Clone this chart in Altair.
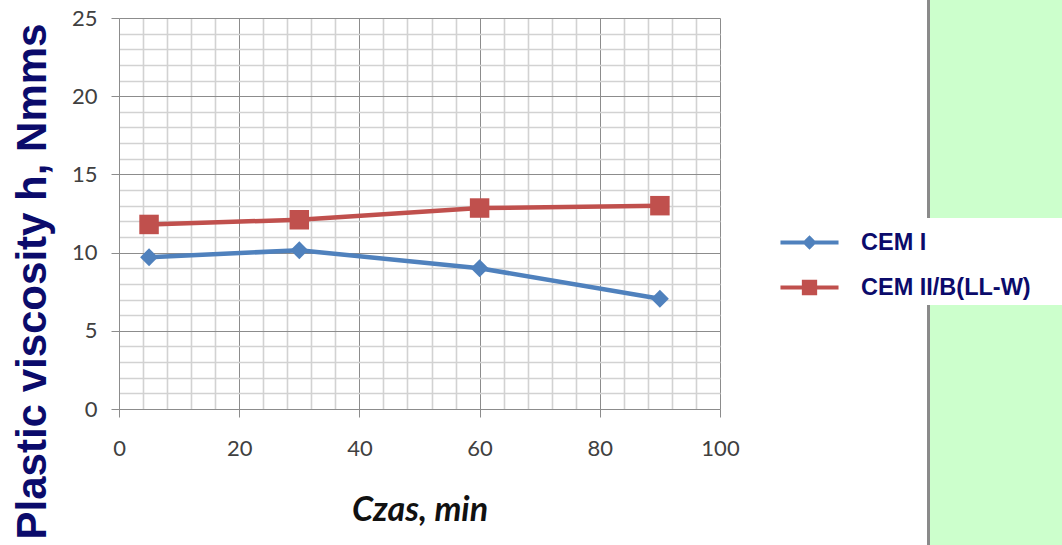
import altair as alt
import pandas as pd

# ---- data ----
time_min = [5, 30, 60, 90]
cem_1 = [9.7, 10.15, 9.0, 7.05]
cem_2 = [11.8, 12.1, 12.85, 13.0]
series_names = ["CEM I", "CEM II/B(LL-W)"]
series_colors = ["#4F81BD", "#C0504D"]
x_grid_values = list(range(0, 101, 4))
y_grid_values = list(range(0, 26, 1))

df = pd.DataFrame({
    "time": time_min * 2,
    "value": cem_1 + cem_2,
    "series": [series_names[0]] * len(time_min) + [series_names[1]] * len(time_min),
})

W, H = 601, 391
NAVY = "#0b0b6b"
TICK_FONT = "Lato"
MAJOR = "#8c8c8c"
MINOR = "#d2d2d2"

x_enc = alt.X(
    "time:Q",
    scale=alt.Scale(domain=[0, 100], nice=False, zero=False),
    axis=alt.Axis(
        values=x_grid_values,
        labelExpr="datum.value % 20 === 0 ? datum.label : ''",
        grid=True,
        gridColor={"condition": {"test": "datum.value % 20 === 0", "value": MAJOR}, "value": MINOR},
        gridWidth={"condition": {"test": "datum.value % 20 === 0", "value": 1}, "value": 1.6},
        ticks=True,
        tickSize=8,
        tickColor=MAJOR,
        tickOpacity={"condition": {"test": "datum.value % 20 === 0", "value": 1}, "value": 0},
        domainColor=MAJOR,
        labelFont=TICK_FONT,
        labelFontSize=22,
        labelColor="#404040",
        labelPadding=21,
        labelFlush=False,
        title="Czas, min",
        titleFont=TICK_FONT,
        titleFontSize=34,
        titleFontStyle="italic",
        titleFontWeight="bold",
        titleColor="#111111",
        titleX=W / 2,
        titleY=101,
        titleBaseline="middle",
        titleAlign="center",
    ),
)

y_enc = alt.Y(
    "value:Q",
    scale=alt.Scale(domain=[0, 25], nice=False, zero=False),
    axis=alt.Axis(
        values=y_grid_values,
        labelExpr="datum.value % 5 === 0 ? datum.label : ''",
        grid=True,
        gridColor={"condition": {"test": "datum.value % 5 === 0", "value": MAJOR}, "value": MINOR},
        gridWidth={"condition": {"test": "datum.value % 5 === 0", "value": 1}, "value": 1.6},
        ticks=True,
        tickSize=8,
        tickColor=MAJOR,
        tickOpacity={"condition": {"test": "datum.value % 5 === 0", "value": 1}, "value": 0},
        domainColor=MAJOR,
        labelFont=TICK_FONT,
        labelFontSize=22,
        labelColor="#404040",
        labelPadding=14,
        labelFlush=False,
        title="Plastic viscosity h, Nmms",
        titleFont="Liberation Sans",
        titleFontSize=42,
        titleFontWeight="bold",
        titleColor=NAVY,
        titleX=-87,
        titleY=263,
        titleAlign="center",
        titleBaseline="middle",
        titleAngle=270,
    ),
)

color_scale = alt.Scale(domain=series_names, range=series_colors)

# decorative right-hand panel (part of the slide background)
one = pd.DataFrame({"k": [0]})
panel_border = alt.Chart(one).mark_rect(color="#8a8a8a").encode(
    x=alt.value(808), x2=alt.value(811), y=alt.value(-18), y2=alt.value(527)
)
panel_fill = alt.Chart(one).mark_rect(color="#CCFFCC").encode(
    x=alt.value(811), x2=alt.value(943), y=alt.value(-18), y2=alt.value(527)
)
panel_cut = alt.Chart(one).mark_rect(color="#FFFFFF").encode(
    x=alt.value(806), x2=alt.value(943), y=alt.value(200), y2=alt.value(287)
)

lines = alt.Chart(df).mark_line(strokeWidth=4.5).encode(
    x=x_enc, y=y_enc,
    color=alt.Color("series:N", scale=color_scale, legend=None),
    detail="series:N",
)

points = alt.Chart(df).mark_point(filled=True, opacity=1).encode(
    x=x_enc, y=y_enc,
    color=alt.Color("series:N", scale=color_scale, legend=None),
    shape=alt.Shape("series:N", scale=alt.Scale(domain=series_names, range=["diamond", "square"]), legend=None),
    size=alt.Size("series:N", scale=alt.Scale(domain=series_names, range=[320, 380]), legend=None),
)

# legend symbols: line segment with marker
leg_diamond = "M-1.29,-0.09H1.29V0.09H-1.29Z M0,-0.32L0.32,0L0,0.32L-0.32,0Z"
leg_square = "M-1.29,-0.09H1.29V0.09H-1.29Z M-0.34,-0.34H0.34V0.34H-0.34Z"

legend_layer = alt.Chart(df).transform_filter("false").mark_point(filled=True, opacity=1).encode(
    x=x_enc, y=y_enc,
    color=alt.Color(
        "series:N", scale=color_scale,
        legend=alt.Legend(
            orient="none", legendX=668, legendY=202, title=None,
            labelFont="Liberation Sans", labelFontSize=23.5, labelFontWeight="bold",
            labelColor=NAVY, labelLimit=0, symbolSize=2025, symbolStrokeWidth=0,
            labelOffset=29, rowPadding=11, padding=0,
        ),
    ),
    shape=alt.Shape("series:N", scale=alt.Scale(domain=series_names, range=[leg_diamond, leg_square])),
)

chart = (
    alt.layer(panel_border, panel_fill, panel_cut, lines, points, legend_layer)
    .resolve_scale(color="independent", shape="independent", size="independent")
    .properties(
        width=W, height=H,
        autosize=alt.AutoSizeParams(type="none"),
        padding={"left": 119, "top": 18, "right": 342, "bottom": 136},
        background="white",
    )
    .configure_view(stroke=None)
)

chart.save("out.html", embed_options={"renderer": "svg", "actions": False})
